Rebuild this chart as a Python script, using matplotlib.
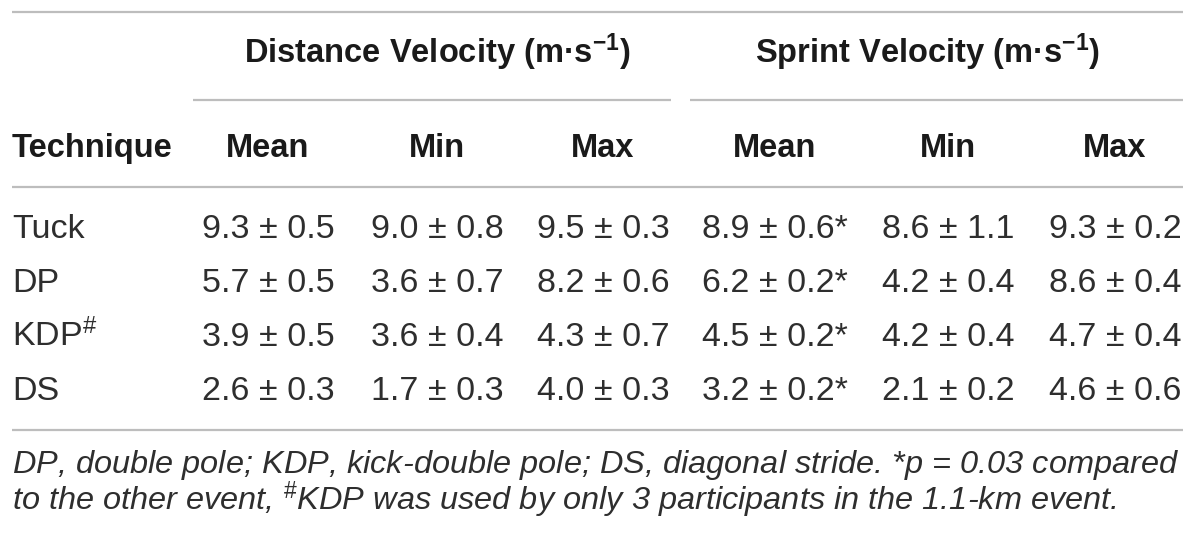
import matplotlib
matplotlib.use("Agg")
import matplotlib.pyplot as plt

plt.rcParams["font.family"] = ["Liberation Sans", "DejaVu Sans"]
plt.rcParams["mathtext.fontset"] = "custom"
plt.rcParams["mathtext.rm"] = "Liberation Sans"
plt.rcParams["mathtext.bf"] = "Liberation Sans:bold"
plt.rcParams["mathtext.it"] = "Liberation Sans:italic"

# table data
techniques = ["Tuck", "DP", "KDP$^{\\#}$", "DS"]
groups = ["Distance Velocity (m·s$^{\\mathbf{-1}}$)", "Sprint Velocity (m·s$^{\\mathbf{-1}}$)"]
stats = ["Mean", "Min", "Max"]

dist_mean = [9.3, 5.7, 3.9, 2.6]
dist_mean_sd = [0.5, 0.5, 0.5, 0.3]
dist_min = [9.0, 3.6, 3.6, 1.7]
dist_min_sd = [0.8, 0.7, 0.4, 0.3]
dist_max = [9.5, 8.2, 4.3, 4.0]
dist_max_sd = [0.3, 0.6, 0.7, 0.3]
sprint_mean = [8.9, 6.2, 4.5, 3.2]
sprint_mean_sd = [0.6, 0.2, 0.2, 0.2]
sprint_min = [8.6, 4.2, 4.2, 2.1]
sprint_min_sd = [1.1, 0.4, 0.4, 0.2]
sprint_max = [9.3, 8.6, 4.7, 4.6]
sprint_max_sd = [0.2, 0.4, 0.4, 0.6]
star_col = 3  # sprint mean, p = 0.03

footnote = [
    "DP, double pole; KDP, kick-double pole; DS, diagonal stride. *$\\mathit{p}$ = 0.03 compared",
    "to the other event, $^{\\mathit{\\#}}$KDP was used by only 3 participants in the 1.1-km event.",
]

columns = [
    (dist_mean, dist_mean_sd), (dist_min, dist_min_sd), (dist_max, dist_max_sd),
    (sprint_mean, sprint_mean_sd), (sprint_min, sprint_min_sd), (sprint_max, sprint_max_sd),
]

# layout (pixels)
W, H = 1200, 536
col_x = [268, 437, 603, 775, 948, 1115]
group_x = [437, 927]
group_span = [(193, 671), (690, 1183)]
row_y = [238, 292, 346, 400]
line_col = "#bdbdbd"
head_col = "#1a1a1a"
body_col = "#2e2e2e"

fig = plt.figure(figsize=(12, 5.36), dpi=100)
ax = fig.add_axes([0, 0, 1, 1])
ax.set_xlim(0, W)
ax.set_ylim(H, 0)
ax.axis("off")

# rules
for y in [12, 187, 430]:
    ax.plot([12, 1183], [y, y], color=line_col, lw=1.6, solid_capstyle="butt")
for x0, x1 in group_span:
    ax.plot([x0, x1], [100, 100], color=line_col, lw=1.6, solid_capstyle="butt")

# headers
for gx, g in zip(group_x, groups):
    ax.text(gx, 63, g, ha="center", va="baseline", fontsize=23.5,
            fontweight="bold", color=head_col)
ax.text(12, 157, "Technique", ha="left", va="baseline", fontsize=23.5,
        fontweight="bold", color=head_col)
for i, cx in enumerate(col_x):
    ax.text(cx, 157, stats[i % 3], ha="center", va="baseline", fontsize=23.5,
            fontweight="bold", color=head_col)

# body
for r, (tech, ry) in enumerate(zip(techniques, row_y)):
    ax.text(12, ry, tech, ha="left", va="baseline", fontsize=24.5, color=body_col)
    for c, (vals, sds) in enumerate(columns):
        s = f"{vals[r]:.1f} ± {sds[r]:.1f}"
        if c == star_col:
            s += "*"
        ax.text(col_x[c], ry, s, ha="center", va="baseline", fontsize=24.5,
                color=body_col)

# footnote
for i, line in enumerate(footnote):
    ax.text(12, 473 + 37 * i, line, ha="left", va="baseline", fontsize=23.4,
            style="italic", color=body_col)

fig.savefig("out.png", dpi=100, facecolor="white")
